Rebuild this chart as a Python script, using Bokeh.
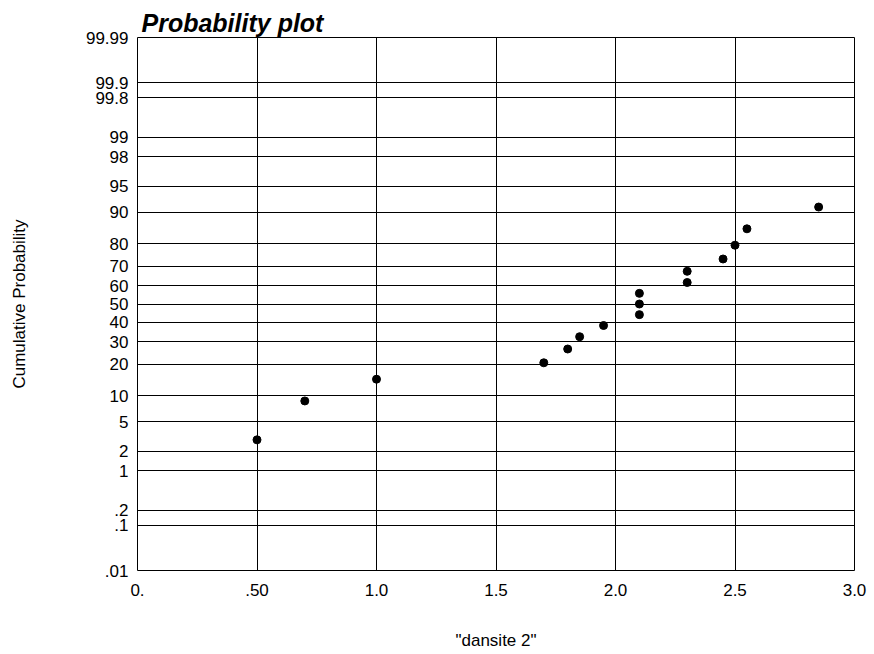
from statistics import NormalDist
from bokeh.plotting import figure
from bokeh.models import FixedTicker
from bokeh.embed import file_html
from bokeh.resources import INLINE

# data
x_vals = [0.50, 0.70, 1.00, 1.70, 1.80, 1.85, 1.95, 2.10, 2.10, 2.10, 2.30, 2.30, 2.45, 2.50, 2.55, 2.85]
prob_pct = [2.9, 8.8, 14.7, 20.6, 26.5, 32.4, 38.2, 44.1, 50.0, 55.9, 61.8, 67.6, 73.5, 79.4, 85.3, 91.2]

y_tick_pct = [0.01, 0.1, 0.2, 1, 2, 5, 10, 20, 30, 40, 50, 60, 70, 80, 90, 95, 98, 99, 99.8, 99.9, 99.99]
y_tick_labels = [".01", ".1", ".2", "1", "2", "5", "10", "20", "30", "40", "50", "60", "70", "80",
                 "90", "95", "98", "99", "99.8", "99.9", "99.99"]
x_ticks = [0.0, 0.5, 1.0, 1.5, 2.0, 2.5, 3.0]
x_tick_labels = ["0.", ".50", "1.0", "1.5", "2.0", "2.5", "3.0"]

nd = NormalDist()
def z(pct):
    return round(nd.inv_cdf(pct / 100.0), 6)

y_z = [z(v) for v in prob_pct]
y_tick_z = [z(v) for v in y_tick_pct]

FONT = "Liberation Sans"

p = figure(width=874, height=654, x_range=(0, 3), y_range=(y_tick_z[0], y_tick_z[-1]),
           output_backend="svg", toolbar_location=None,
           min_border_left=137, min_border_right=20, min_border_top=37, min_border_bottom=84)

p.title.text = "Probability plot"
p.title.text_font = FONT
p.title.text_font_style = "bold italic"
p.title.text_font_size = "25px"
p.title.text_color = "black"
p.title.align = "left"
p.title.offset = 4
p.title.standoff = 1

p.outline_line_color = "black"
p.outline_line_width = 1
p.outline_line_alpha = 1

p.xaxis.ticker = FixedTicker(ticks=x_ticks)
p.xaxis.major_label_overrides = {t: l for t, l in zip(x_ticks, x_tick_labels)}
p.yaxis.ticker = FixedTicker(ticks=y_tick_z)
p.yaxis.major_label_overrides = {t: l for t, l in zip(y_tick_z, y_tick_labels)}
p.xgrid.ticker = FixedTicker(ticks=x_ticks)
p.ygrid.ticker = FixedTicker(ticks=y_tick_z)

for ax in (p.xaxis, p.yaxis):
    ax.axis_line_color = None
    ax.major_tick_line_color = None
    ax.minor_tick_line_color = None
    ax.major_tick_out = 0
    ax.major_tick_in = 0
    ax.major_label_text_font = FONT
    ax.major_label_text_font_size = "17px"
    ax.major_label_text_color = "black"
    ax.axis_label_text_font = FONT
    ax.axis_label_text_font_size = "17px"
    ax.axis_label_text_font_style = "normal"
    ax.axis_label_text_color = "black"

p.xaxis.major_label_standoff = 13
p.yaxis.major_label_standoff = 9
p.xaxis.axis_label = '"dansite 2"'
p.yaxis.axis_label = "Cumulative Probability"
p.xaxis.axis_label_standoff = 32
p.yaxis.axis_label_standoff = 54

for g in (p.xgrid, p.ygrid):
    g.grid_line_color = "black"
    g.grid_line_alpha = 1
    g.grid_line_width = 1

p.scatter(x_vals, y_z, marker="circle", size=8, color="black")

open("out.html", "w").write(file_html(p, INLINE))
